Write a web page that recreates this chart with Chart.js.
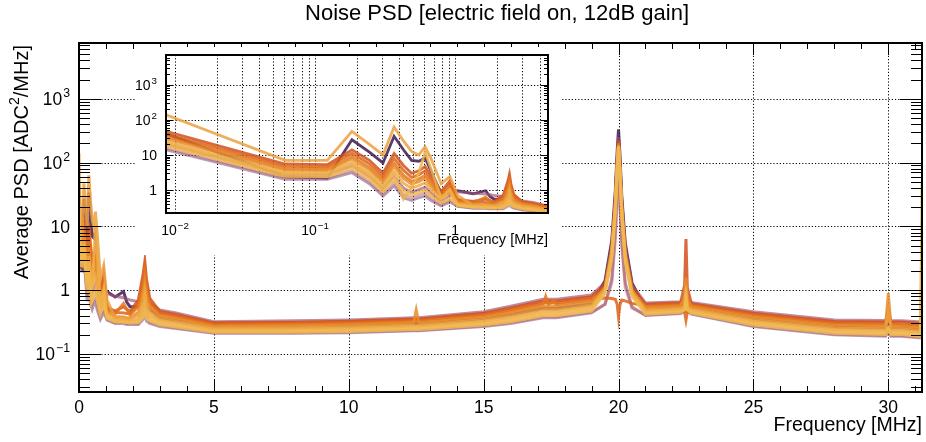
<!DOCTYPE html>
<html>
<head>
<meta charset="utf-8">
<script src="https://cdn.jsdelivr.net/npm/chart.js@4.4.1/dist/chart.umd.min.js"></script>
<style>
  body { margin: 0; background: #fff; }
  #wrap { position: relative; width: 926px; height: 442px; }
  #main { position: absolute; left: 0; top: 0; }
  #insetBox { position: absolute; left: 135px; top: 47px; width: 427px; height: 208px; background: #fff; }
</style>
</head>
<body>
<div id="wrap">
  <canvas id="main" width="926" height="442"></canvas>
  <div id="insetBox"><canvas id="inset" width="427" height="208"></canvas></div>
</div>
<script>
// frequency bins (MHz) shared by every run
const freqMHz = [
  0, 0.061, 0.122, 0.183, 0.244, 0.305, 0.366, 0.427, 0.488, 0.549,
  0.610, 0.671, 0.793, 0.916, 1.04, 1.34, 1.65, 1.77, 1.89, 2.20,
  2.38, 2.44, 2.50, 2.62, 3.0, 3.6, 5, 8, 10, 12.4,
  12.5, 12.6, 15, 16, 17.2, 17.3, 17.4, 17.6, 17.7, 19.0,
  19.5, 19.75, 19.88, 19.95, 20.0, 20.05, 20.12, 20.25, 20.5, 21.0,
  22.3, 22.45, 22.5, 22.55, 22.7, 25, 28, 29.9, 30.0, 30.1,
  30.5, 31.1, 31.2, 31.25
];

// average PSD per run [ADC^2/MHz]
const run01 = [
  40, 2.4, 2.2, 27, 12, 5.9, 34, 14, 7, 6.6,
  8.2, 3.5, 0.8, 0.8, 0.95, 0.78, 0.95, 0.65, 0.55, 0.55,
  0.7, 0.85, 0.6, 0.5, 0.364, 0.332, 0.259, 0.263, 0.27, 0.292,
  0.292, 0.292, 0.352, 0.41, 0.516, 0.516, 0.516, 0.516, 0.516, 0.608,
  1.4, 6, 35, 150, 330, 140, 30, 5.5, 1.3, 0.502,
  0.533, 0.58, 1.0, 0.58, 0.518, 0.352, 0.261, 0.252, 0.3, 0.252,
  0.252, 0.24, 0.24, 0.24
];
const run02 = [
  14, 2, 2, 3.1, 1.5, 0.67, 1.3, 0.6, 0.5, 0.6,
  0.67, 0.5, 0.35, 0.45, 0.34, 0.3, 0.3, 0.29, 0.29, 0.29,
  0.35, 0.45, 0.33, 0.3, 0.27, 0.25, 0.21, 0.21, 0.215, 0.23,
  0.23, 0.23, 0.27, 0.30, 0.37, 0.37, 0.37, 0.37, 0.37, 0.44,
  0.6, 1.5, 8, 35, 80, 30, 6, 1.3, 0.55, 0.40,
  0.43, 0.47, 0.6, 0.47, 0.42, 0.27, 0.20, 0.19, 0.23, 0.19,
  0.19, 0.18, 0.18, 0.18
];
const run03 = [
  20.1, 2.71, 2.68, 4.87, 2.38, 1.05, 2.47, 1.13, 0.86, 1.02,
  1.2, 0.81, 0.464, 0.68, 0.88, 0.8, 0.76, 0.73, 0.7, 0.66,
  0.75, 0.9, 0.7, 0.62, 0.49, 0.44, 0.32, 0.33, 0.34, 0.37,
  0.37, 0.37, 0.46, 0.56, 0.72, 0.72, 0.72, 0.72, 0.72, 0.84,
  1.3, 5, 28, 120, 250, 110, 25, 4.8, 1.2, 0.63,
  0.66, 0.73, 0.9, 0.73, 0.64, 0.46, 0.34, 0.335, 0.4, 0.335,
  0.33, 0.32, 0.32, 0.32
];
const run04 = [
  15.8, 2.21, 2.2, 3.6, 1.75, 0.78, 1.61, 0.74, 0.6, 0.72,
  0.81, 0.59, 0.385, 0.52, 0.35, 0.31, 0.31, 0.3, 0.3, 0.3,
  0.45, 0.6, 0.4, 0.32, 0.278, 0.257, 0.214, 0.215, 0.22, 0.235,
  0.235, 0.235, 0.277, 0.31, 0.382, 0.382, 0.382, 0.382, 0.382, 0.454,
  0.6, 1.3, 6, 25, 60, 22, 5, 1.1, 0.52, 0.409,
  0.439, 0.48, 0.6, 0.48, 0.429, 0.277, 0.205, 0.195, 0.235, 0.195,
  0.195, 0.185, 0.185, 0.185
];
const run05 = [
  47, 5.5, 5.3, 14, 7, 3, 11, 5, 3, 3.5,
  4.7, 2.5, 0.9, 1.8, 0.535, 0.47, 0.55, 0.5, 0.46, 0.7,
  1.8, 2.8, 1.5, 0.75, 0.461, 0.416, 0.307, 0.315, 0.325, 0.353,
  0.353, 0.353, 0.436, 0.526, 0.674, 0.674, 0.674, 0.674, 0.674, 0.788,
  1.2, 4.5, 25, 105, 220, 95, 22, 4.2, 1.1, 0.602,
  0.632, 1.2, 6.3, 1.1, 0.614, 0.436, 0.323, 0.316, 0.5, 0.316,
  0.316, 0.302, 0.302, 0.302
];
const run06 = [
  39.2, 4.72, 4.58, 11.2, 5.56, 2.39, 7.98, 3.64, 2.29, 2.69,
  3.51, 1.97, 0.781, 1.46, 0.506, 0.447, 0.44, 0.43, 0.43, 0.6,
  1.4, 2.2, 1.2, 0.65, 0.435, 0.393, 0.294, 0.302, 0.31, 0.337,
  0.337, 0.337, 0.413, 0.494, 0.63, 0.63, 0.63, 0.63, 0.63, 0.738,
  0.75, 0.74, 0.72, 0.6, 0.38, 0.58, 0.7, 0.68, 0.62, 0.575,
  0.606, 0.45, 0.34, 0.45, 0.59, 0.413, 0.306, 0.299, 0.34, 0.299,
  0.29, 0.285, 0.285, 0.285
];
const run07 = [
  32.7, 4.06, 3.96, 8.91, 4.41, 1.91, 5.8, 2.65, 1.75, 2.06,
  2.62, 1.54, 0.678, 1.19, 0.478, 0.422, 0.62, 0.5, 0.41, 0.55,
  1.1, 1.7, 1.0, 0.58, 0.41, 0.371, 0.282, 0.288, 0.296, 0.321,
  0.321, 0.321, 0.392, 0.464, 0.59, 0.8, 0.59, 0.69, 0.59, 0.692,
  1.1, 4.2, 22, 95, 200, 85, 20, 3.8, 1.0, 0.55,
  0.58, 0.62, 1.0, 0.62, 0.566, 0.392, 0.29, 0.283, 0.45, 0.283,
  0.28, 0.269, 0.269, 0.269
];
const run08 = [
  29, 3.67, 3.59, 7.66, 3.78, 1.65, 4.68, 2.14, 1.47, 1.73,
  2.16, 1.31, 0.617, 1.03, 0.439, 0.387, 0.38, 0.37, 0.37, 0.45,
  0.9, 1.3, 0.8, 0.5, 0.386, 0.351, 0.27, 0.275, 0.283, 0.306,
  0.49, 0.306, 0.372, 0.436, 0.552, 0.552, 0.552, 0.552, 0.552, 0.649,
  1.05, 4, 21, 90, 190, 80, 19, 3.6, 0.95, 0.525,
  0.556, 0.8, 1.56, 0.75, 0.542, 0.372, 0.275, 0.267, 0.9, 0.267,
  0.267, 0.254, 0.254, 0.254
];
const run09 = [
  140, 7, 7, 47, 20, 10, 63, 25, 12.6, 10,
  17, 8, 1.5, 2.4, 0.7, 0.366, 0.36, 0.35, 0.35, 0.4,
  0.7, 1.0, 0.65, 0.45, 0.353, 0.322, 0.254, 0.257, 0.264, 0.285,
  0.285, 0.285, 0.343, 0.397, 0.499, 0.499, 0.499, 0.499, 0.499, 0.589,
  1.0, 3.8, 20, 85, 185, 78, 18, 3.4, 0.92, 0.491,
  0.521, 0.55, 1.1, 0.55, 0.508, 0.343, 0.254, 0.245, 0.45, 0.245,
  0.245, 0.233, 0.233, 2
];
const run10 = [
  24.1, 3.15, 3.11, 6.11, 3.0, 1.32, 3.4, 1.56, 1.12, 1.33,
  1.61, 1.03, 0.535, 0.84, 0.392, 0.346, 0.34, 0.335, 0.33, 0.35,
  0.55, 0.8, 0.5, 0.4, 0.333, 0.305, 0.243, 0.246, 0.252, 0.272,
  0.272, 0.272, 0.325, 0.373, 0.467, 0.467, 0.467, 0.467, 0.467, 0.552,
  1.0, 3.6, 19, 82, 180, 75, 17, 3.2, 0.9, 0.469,
  0.5, 0.53, 0.9, 0.53, 0.487, 0.325, 0.241, 0.232, 0.263, 0.232,
  0.232, 0.22, 0.22, 5
];
const run11 = [
  21.4, 2.85, 2.82, 5.25, 2.57, 1.13, 2.74, 0.55, 1.2, 3.0,
  12, 4, 0.6, 1.0, 0.37, 0.327, 0.32, 0.315, 0.315, 0.33,
  0.45, 0.6, 0.42, 0.36, 0.308, 0.283, 0.23, 0.232, 0.238, 0.255,
  0.255, 0.255, 0.304, 0.344, 0.428, 0.428, 0.428, 0.428, 0.428, 0.507,
  0.95, 3.4, 18, 80, 180, 72, 16, 3.0, 0.85, 0.442,
  0.473, 0.5, 0.8, 0.5, 0.461, 0.304, 0.225, 0.215, 0.248, 0.215,
  0.215, 0.204, 0.204, 12
];
const run12 = [
  17.8, 2.45, 2.4, 4.19, 2.04, 0.9, 1.99, 0.92, 0.72, 0.85,
  0.99, 0.69, 0.423, 0.59, 0.36, 0.318, 0.315, 0.31, 0.305, 0.31,
  0.38, 0.45, 0.36, 0.33, 0.287, 0.265, 0.219, 0.219, 0.225, 0.241,
  0.241, 0.241, 0.285, 0.319, 0.396, 0.396, 0.396, 0.396, 0.396, 0.469,
  0.9, 3.2, 17, 75, 175, 70, 15, 2.8, 0.8, 0.418,
  0.448, 0.49, 0.7, 0.49, 0.437, 0.285, 0.211, 0.201, 0.24, 0.201,
  0.201, 0.19, 0.19, 50
];

const runs = [run01, run02, run03, run04, run05, run06, run07, run08, run09, run10, run11, run12];
const runColors = [
  '#3d1a4f', '#6b3a6e', '#9c4f72', '#c05a5f', '#d2501c', '#dd6418',
  '#e4781e', '#e98c2a', '#eca040', '#eeaa44', '#f0b24a', '#f1ba50'
];
const runAlpha = [0.85, 0.5, 0.65, 0.5, 0.85, 0.85, 0.85, 0.85, 0.85, 0.85, 0.85, 0.85];

const FONT = '"Liberation Sans", Arial, Helvetica, sans-serif';

function withAlpha(hex, a) {
  const n = parseInt(hex.slice(1), 16);
  return `rgba(${n >> 16}, ${(n >> 8) & 255}, ${n & 255}, ${a})`;
}

// first run painted first, last run ends up on top
function makeDatasets(width) {
  return runs.map((run, k) => ({
    data: freqMHz.map((f, i) => ({ x: f, y: run[i] })),
    borderColor: withAlpha(runColors[k], runAlpha[k]),
    borderWidth: width,
    pointRadius: 0,
    tension: 0,
    fill: false,
    order: runs.length - k
  }));
}

// 2..9 x 10^n ticks inside [min, max]
function logTicks(min, max) {
  const major = [], minor = [];
  for (let e = Math.floor(Math.log10(min)); e <= Math.ceil(Math.log10(max)); e++) {
    const b = Math.pow(10, e);
    if (b >= min && b <= max) major.push(b);
    for (let m = 2; m <= 9; m++) {
      const v = m * b;
      if (v >= min && v <= max) minor.push(v);
    }
  }
  return { major, minor };
}

// "1", "10", or 10 with a superscript exponent
function drawPow(ctx, e, x, y, size, align) {
  const base = e === 0 ? '1' : '10';
  const sup = (e === 0 || e === 1) ? '' : (e < 0 ? '\u2212' + (-e) : String(e));
  const supSize = size * 0.7;
  ctx.font = `${size}px ${FONT}`;
  const wb = ctx.measureText(base).width;
  ctx.font = `${supSize}px ${FONT}`;
  const ws = sup ? ctx.measureText(sup).width + 1 : 0;
  const total = wb + ws;
  const x0 = align === 'right' ? x - total : x - total / 2;
  const baseY = y + size * 0.716 / 2;
  ctx.textAlign = 'left';
  ctx.textBaseline = 'alphabetic';
  ctx.font = `${size}px ${FONT}`;
  ctx.fillText(base, x0, baseY);
  if (sup) {
    ctx.font = `${supSize}px ${FONT}`;
    ctx.fillText(sup, x0 + wb + 1, baseY - size * 0.45);
  }
}

function seg(ctx, x1, y1, x2, y2) {
  ctx.beginPath();
  ctx.moveTo(x1, y1);
  ctx.lineTo(x2, y2);
  ctx.stroke();
}

// ROOT-like frame: dotted grid under the data, frame + inner ticks + labels on top
function rootFrame(opt) {
  return {
    id: 'rootFrame',
    beforeDatasetsDraw(chart) {
      const { ctx, chartArea: a, scales: { x, y } } = chart;
      ctx.save();
      ctx.strokeStyle = '#000';
      ctx.lineWidth = 1;
      ctx.setLineDash([1.2, 2]);
      opt.gridX.forEach(v => {
        const px = Math.round(x.getPixelForValue(v)) + 0.5;
        seg(ctx, px, a.top, px, a.bottom);
      });
      opt.gridY.forEach(v => {
        const py = Math.round(y.getPixelForValue(v)) + 0.5;
        seg(ctx, a.left, py, a.right, py);
      });
      ctx.restore();
    },
    afterDatasetsDraw(chart) {
      const { ctx, chartArea: a, scales: { x, y } } = chart;
      ctx.save();
      ctx.strokeStyle = '#000';
      ctx.lineWidth = 1;
      // x ticks, bottom and top
      (opt.xMajor || []).forEach(v => {
        const px = Math.round(x.getPixelForValue(v)) + 0.5;
        seg(ctx, px, a.bottom, px, a.bottom - opt.xMajorLen);
        seg(ctx, px, a.top, px, a.top + opt.xMajorLen);
      });
      (opt.xMinor || []).forEach(v => {
        const px = Math.round(x.getPixelForValue(v)) + 0.5;
        seg(ctx, px, a.bottom, px, a.bottom - opt.xMinorLen);
        seg(ctx, px, a.top, px, a.top + opt.xMinorLen);
      });
      // y ticks, left and right
      const yt = logTicks(y.min, y.max);
      yt.major.forEach(v => {
        const py = Math.round(y.getPixelForValue(v)) + 0.5;
        seg(ctx, a.left, py, a.left + opt.yMajorLen, py);
        seg(ctx, a.right, py, a.right - opt.yMajorLen, py);
      });
      yt.minor.forEach(v => {
        const py = Math.round(y.getPixelForValue(v)) + 0.5;
        seg(ctx, a.left, py, a.left + opt.yMinorLen, py);
        seg(ctx, a.right, py, a.right - opt.yMinorLen, py);
      });
      // frame
      ctx.lineWidth = 2;
      ctx.strokeRect(a.left, a.top, a.right - a.left, a.bottom - a.top);

      // tick labels
      ctx.fillStyle = '#000';
      opt.xLabels(ctx, x, a);
      yt.major.forEach(v => {
        drawPow(ctx, Math.round(Math.log10(v)), a.left - opt.yLabelGap, y.getPixelForValue(v), opt.labelSize, 'right');
      });
      // axis titles
      if (opt.titles) opt.titles(ctx, a);
      ctx.restore();
    }
  };
}

function drawXTitle(ctx, text, right, baseline, size) {
  ctx.font = `${size}px ${FONT}`;
  ctx.textAlign = 'right';
  ctx.textBaseline = 'alphabetic';
  ctx.fillText(text, right, baseline);
}

// ---------- main spectrum ----------
const mainX = { min: 0, max: 31.25 };
const mainY = { min: 0.0253, max: 7480 };
const mainXMajor = [0, 5, 10, 15, 20, 25, 30];
const mainXMinor = [1, 2, 3, 4, 6, 7, 8, 9, 11, 12, 13, 14, 16, 17, 18, 19, 21, 22, 23, 24, 26, 27, 28, 29, 31];

new Chart(document.getElementById('main'), {
  type: 'line',
  data: { datasets: makeDatasets(3) },
  options: {
    responsive: false,
    animation: false,
    layout: { padding: { left: 79, right: 4, top: 43, bottom: 50 } },
    scales: {
      x: { type: 'linear', min: mainX.min, max: mainX.max, display: false },
      y: { type: 'logarithmic', min: mainY.min, max: mainY.max, display: false }
    },
    plugins: { legend: { display: false }, tooltip: { enabled: false } }
  },
  plugins: [rootFrame({
    gridX: [5, 10, 15, 20, 25, 30],
    gridY: [0.1, 1, 10, 100, 1000],
    xMajor: mainXMajor, xMinor: mainXMinor,
    xMajorLen: 12, xMinorLen: 6, yMajorLen: 22, yMinorLen: 11,
    yLabelGap: 9, labelSize: 17.5,
    xLabels(ctx, x, a) {
      ctx.font = `17.5px ${FONT}`;
      ctx.textAlign = 'center';
      ctx.textBaseline = 'alphabetic';
      mainXMajor.forEach(v => ctx.fillText(String(v), x.getPixelForValue(v), a.bottom + 21));
    },
    titles(ctx, a) {
      drawXTitle(ctx, 'Frequency [MHz]', a.right, 431, 19.5);
      // rotated y title with superscript 2
      const size = 20;
      const parts = [['Average PSD [ADC', size, 0], ['2', size * 0.7, size * 0.45], ['/MHz]', size, 0]];
      let total = 0;
      parts.forEach(p => { ctx.font = `${p[1]}px ${FONT}`; p.push(ctx.measureText(p[0]).width); total += p[3]; });
      ctx.translate(28, 45);
      ctx.rotate(-Math.PI / 2);
      ctx.textAlign = 'left';
      let cx = -total;
      parts.forEach(p => { ctx.font = `${p[1]}px ${FONT}`; ctx.fillText(p[0], cx, -p[2]); cx += p[3]; });
      ctx.setTransform(1, 0, 0, 1, 0, 0);
      // plot title
      ctx.font = `22px ${FONT}`;
      ctx.textAlign = 'center';
      ctx.fillText('Noise PSD [electric field on, 12dB gain]', 497, 20);
    }
  })]
});

// ---------- low-frequency inset (log-log) ----------
const insetX = { min: 0.0086, max: 4.6 };
const insetY = { min: 0.22, max: 7100 };
const insetGridX = [];
[0.01, 0.1, 1].forEach(b => { for (let m = 1; m <= 9; m++) { const v = m * b; if (v >= insetX.min && v <= insetX.max) insetGridX.push(v); } });

new Chart(document.getElementById('inset'), {
  type: 'line',
  data: { datasets: makeDatasets(2.8) },
  options: {
    responsive: false,
    animation: false,
    layout: { padding: { left: 31, right: 14, top: 8, bottom: 42 } },
    scales: {
      x: { type: 'logarithmic', min: insetX.min, max: insetX.max, display: false },
      y: { type: 'logarithmic', min: insetY.min, max: insetY.max, display: false }
    },
    plugins: { legend: { display: false }, tooltip: { enabled: false } }
  },
  plugins: [rootFrame({
    gridX: insetGridX,
    gridY: [1, 10, 100, 1000],
    yMajorLen: 7, yMinorLen: 4,
    yLabelGap: 9, labelSize: 14,
    xLabels(ctx, x, a) {
      [-2, -1, 0].forEach(e => drawPow(ctx, e, x.getPixelForValue(Math.pow(10, e)), a.bottom + 17, 14, 'center'));
    },
    titles(ctx, a) {
      drawXTitle(ctx, 'Frequency [MHz]', a.right, a.bottom + 31, 14.5);
    }
  })]
});
</script>
</body>
</html>
